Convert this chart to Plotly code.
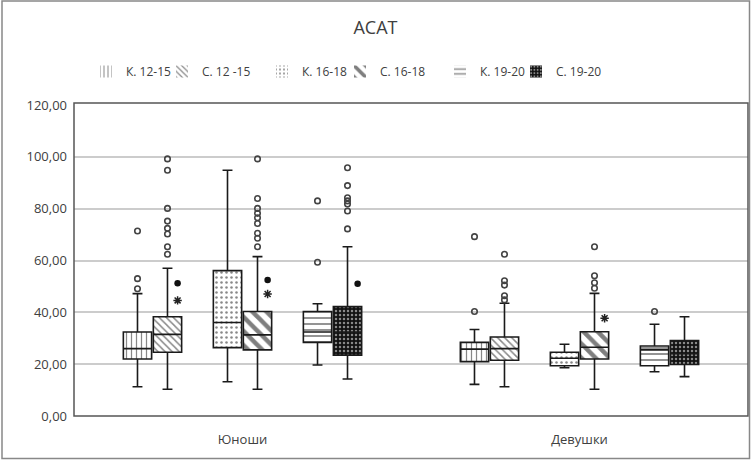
import plotly.graph_objects as go

# ---------------- data ----------------
groups = ["Юноши", "Девушки"]
series = ["К. 12-15", "С. 12 -15", "К. 16-18", "С. 16-18", "К. 19-20", "С. 19-20"]

# Юноши
yun_low = [11.3, 10.3, 13.2, 10.3, 19.7, 14.3]
yun_q1 = [22.0, 24.6, 26.4, 25.5, 28.4, 23.5]
yun_med = [26.0, 31.5, 36.1, 31.3, 32.4, 32.4]
yun_q3 = [32.4, 38.3, 56.1, 40.3, 40.3, 42.2]
yun_high = [47.2, 57.0, 94.8, 61.5, 43.3, 65.3]
yun_out = [
    [71.4, 53.0, 49.1],
    [99.2, 94.8, 80.1, 75.2, 72.4, 70.2, 65.3, 62.4],
    [],
    [99.2, 83.9, 80.1, 78.2, 76.5, 74.3, 70.5, 68.6, 65.3],
    [83.0, 59.3],
    [95.8, 88.9, 84.2, 83.0, 81.8, 79.1, 72.2],
]
yun_dot = [None, 51.2, None, 52.5, None, 51.0]
yun_star = [None, 44.6, None, 47.1, None, None]

# Девушки
dev_low = [12.2, 11.3, 18.6, 10.3, 17.1, 15.2]
dev_q1 = [21.0, 21.5, 19.4, 22.0, 19.4, 19.9]
dev_med = [25.8, 26.0, 22.3, 26.5, 25.5, 24.0]
dev_q3 = [28.4, 30.5, 24.6, 32.5, 27.0, 29.1]
dev_high = [33.4, 43.5, 27.7, 47.3, 35.4, 38.3]
dev_out = [
    [69.2, 40.3],
    [62.4, 52.2, 50.5, 46.4, 44.8],
    [],
    [65.3, 54.1, 51.4, 49.3],
    [40.3],
    [],
]
dev_dot = [None, None, None, None, None, None]
dev_star = [None, None, None, 37.7, None, None]

y_ticks = [0, 20, 40, 60, 80, 100, 120]

# ---------------- styles ----------------
offsets = [-0.3116, -0.2226, -0.0445, 0.0445, 0.2226, 0.3116]
box_w = 0.084
patterns = [
    dict(shape="|", size=5, solidity=0.25, fgcolor="#111", bgcolor="white"),
    dict(shape="\\", size=5, solidity=0.3, fgcolor="#111", bgcolor="white"),
    dict(shape=".", size=5, solidity=0.2, fgcolor="#111", bgcolor="white"),
    dict(shape="\\", size=10, solidity=0.45, fgcolor="#000", bgcolor="white"),
    dict(shape="-", size=6, solidity=0.3, fgcolor="#111", bgcolor="white"),
    dict(shape=".", size=4, solidity=0.3, fgcolor="white", bgcolor="#111"),
]
legend_x_px = [86, 162, 262, 340, 440, 516]
FONT = "Open Sans"
TXT = "#404040"

fig = go.Figure()

lows = [yun_low, dev_low]
q1s = [yun_q1, dev_q1]
meds = [yun_med, dev_med]
q3s = [yun_q3, dev_q3]
highs = [yun_high, dev_high]
outs = [yun_out, dev_out]
dots = [yun_dot, dev_dot]
stars = [yun_star, dev_star]


def leg_id(i):
    return "legend" if i == 0 else f"legend{i + 1}"


# patterned box bodies (bars)
for si, name in enumerate(series):
    xs = [gi + 0.5 + offsets[si] for gi in range(len(groups))]
    fig.add_trace(go.Bar(
        x=xs,
        base=[q1s[gi][si] for gi in range(len(groups))],
        y=[q3s[gi][si] - q1s[gi][si] for gi in range(len(groups))],
        width=box_w,
        name=name,
        legend=leg_id(si),
        marker=dict(color="white", line=dict(width=0), pattern=patterns[si]),
        hoverinfo="skip",
    ))

# box outlines, medians and whiskers
for si, name in enumerate(series):
    for gi in range(len(groups)):
        fig.add_trace(go.Box(
            x=[gi + 0.5 + offsets[si]],
            q1=[q1s[gi][si]], median=[meds[gi][si]], q3=[q3s[gi][si]],
            lowerfence=[lows[gi][si]], upperfence=[highs[gi][si]],
            width=box_w, whiskerwidth=0.35,
            fillcolor="rgba(0,0,0,0)",
            line=dict(color="#1a1a1a", width=1.6),
            showlegend=False, hoverinfo="skip",
        ))

# outliers
for si, name in enumerate(series):
    for gi in range(len(groups)):
        vals = outs[gi][si]
        if vals:
            fig.add_trace(go.Scatter(
                x=[gi + 0.5 + offsets[si]] * len(vals), y=vals, mode="markers",
                marker=dict(symbol="circle-open", size=5.5, color="#444",
                            line=dict(width=1.6, color="#444")),
                showlegend=False, hoverinfo="skip",
            ))
        d = dots[gi][si]
        if d is not None:
            fig.add_trace(go.Scatter(
                x=[gi + 0.5 + offsets[si] + 0.03], y=[d], mode="markers",
                marker=dict(symbol="circle", size=6.5, color="#111"),
                showlegend=False, hoverinfo="skip",
            ))
        s = stars[gi][si]
        if s is not None:
            fig.add_trace(go.Scatter(
                x=[gi + 0.5 + offsets[si] + 0.03], y=[s], mode="markers",
                marker=dict(symbol="asterisk-open", size=7, color="#222",
                            line=dict(width=1.5, color="#222")),
                showlegend=False, hoverinfo="skip",
            ))

W, H = 751, 460
L, R, T, B = 74, 3, 105, 44
pw, ph = W - L - R, H - T - B


def px_x(p):
    return (p - L) / pw


def px_y(p):
    return (H - B - p) / ph


legend_common = dict(
    orientation="h", xref="container", yref="container", yanchor="top",
    xanchor="left",
    font=dict(family=FONT, size=12, color=TXT), bgcolor="rgba(0,0,0,0)",
    itemwidth=30, y=1 - 57 / H,
)
legends = {leg_id(i): dict(x=legend_x_px[i] / W, **legend_common) for i in range(len(series))}

fig.update_layout(
    width=W, height=H,
    margin=dict(l=L, r=R, t=T, b=B),
    paper_bgcolor="white", plot_bgcolor="white",
    separators=", ",
    barmode="overlay",
    boxmode="overlay",
    title=dict(text="АСАТ", x=0.5, xanchor="center", y=1 - 28 / H, yanchor="middle",
               font=dict(family=FONT, size=18, color=TXT)),
    xaxis=dict(range=[0, len(groups)], tickvals=[gi + 0.5 for gi in range(len(groups))],
               ticktext=groups, showgrid=False, zeroline=False, showline=False,
               ticks="", ticklabelstandoff=14,
               tickfont=dict(family=FONT, size=13, color=TXT)),
    yaxis=dict(range=[0, 120], tickvals=y_ticks, tickformat=".2f",
               showgrid=True, gridcolor="#cccccc", gridwidth=1.5,
               zeroline=False, showline=False, ticks="", ticklabelstandoff=6,
               tickfont=dict(family=FONT, size=13, color=TXT)),
    shapes=[
        dict(type="rect", xref="paper", yref="paper", x0=0, x1=1, y0=0, y1=px_y(103),
             line=dict(color="#555", width=1.5), fillcolor="rgba(0,0,0,0)", layer="above"),
        dict(type="rect", xref="paper", yref="paper", x0=px_x(2), x1=px_x(749.5),
             y0=px_y(458.5), y1=px_y(1), line=dict(color="#888", width=1.5),
             fillcolor="rgba(0,0,0,0)", layer="above"),
    ],
)
fig.update_layout(**legends)

fig.write_html("out.html")
